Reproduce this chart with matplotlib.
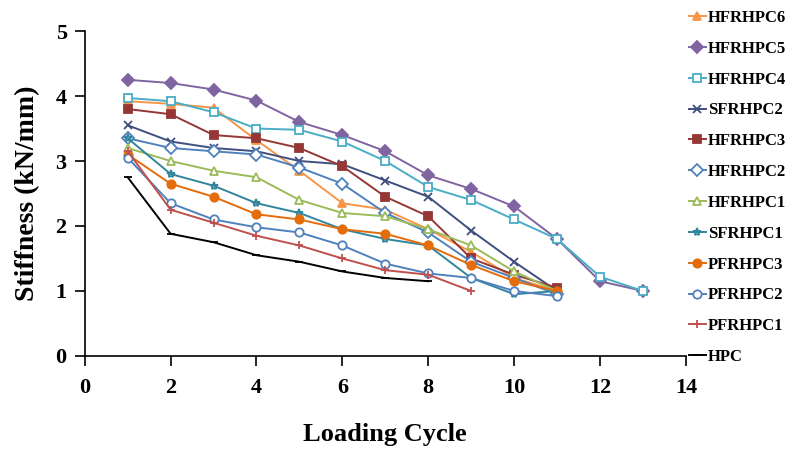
import numpy as np
import matplotlib.pyplot as plt

#--- DATA ---------------------------------------------------------------------+

names = ['HFRHPC6', 'HFRHPC5', 'HFRHPC4', 'SFRHPC2', 'HFRHPC3', 'HFRHPC2',
         'HFRHPC1', 'SFRHPC1', 'PFRHPC3', 'PFRHPC2', 'PFRHPC1', 'HPC']

hfrhpc6 = [3.92, 3.88, 3.82, 3.32, 2.85, 2.35, 2.25, 1.95, 1.60, 1.20, 1.00]
hfrhpc5 = [4.25, 4.20, 4.10, 3.93, 3.60, 3.40, 3.15, 2.78, 2.57, 2.30, 1.80, 1.15, 1.00]
hfrhpc4 = [3.97, 3.92, 3.75, 3.50, 3.48, 3.30, 3.00, 2.60, 2.40, 2.10, 1.80, 1.22, 1.00]
sfrhpc2 = [3.55, 3.30, 3.20, 3.15, 3.00, 2.95, 2.70, 2.45, 1.93, 1.45, 1.00]
hfrhpc3 = [3.80, 3.72, 3.40, 3.35, 3.20, 2.92, 2.45, 2.15, 1.50, 1.25, 1.05]
hfrhpc2 = [3.35, 3.20, 3.15, 3.10, 2.90, 2.65, 2.20, 1.90, 1.45, 1.20, 0.95]
hfrhpc1 = [3.20, 3.00, 2.85, 2.75, 2.40, 2.20, 2.15, 1.95, 1.70, 1.30, 1.00]
sfrhpc1 = [3.35, 2.80, 2.62, 2.35, 2.20, 1.95, 1.80, 1.70, 1.20, 0.95, 1.00]
pfrhpc3 = [3.10, 2.65, 2.45, 2.18, 2.10, 1.95, 1.88, 1.70, 1.40, 1.15, 1.00]
pfrhpc2 = [3.05, 2.35, 2.10, 1.98, 1.90, 1.70, 1.42, 1.27, 1.20, 1.00, 0.92]
pfrhpc1 = [3.15, 2.25, 2.05, 1.85, 1.70, 1.50, 1.32, 1.25, 1.00]
hpc     = [2.75, 1.88, 1.75, 1.55, 1.45, 1.30, 1.20, 1.15]

series = [hfrhpc6, hfrhpc5, hfrhpc4, sfrhpc2, hfrhpc3, hfrhpc2,
          hfrhpc1, sfrhpc1, pfrhpc3, pfrhpc2, pfrhpc1, hpc]

#--- STYLES -------------------------------------------------------------------+

styles = [
    dict(color='#F79646', marker='^', mfc='#F79646'),
    dict(color='#8064A2', marker='D', mfc='#8064A2'),
    dict(color='#4BACC6', marker='s', mfc='white'),
    dict(color='#3F4F7F', marker='x', mfc='none'),
    dict(color='#953735', marker='s', mfc='#953735'),
    dict(color='#4F81BD', marker='D', mfc='white'),
    dict(color='#9BBB59', marker='^', mfc='white'),
    dict(color='#31859C', marker='*', mfc='none'),
    dict(color='#E46C0A', marker='o', mfc='#E46C0A'),
    dict(color='#4F81BD', marker='o', mfc='white'),
    dict(color='#C0504D', marker='+', mfc='none'),
    dict(color='black', marker='_', mfc='black'),
]

plt.rcParams['font.family'] = ['Liberation Serif', 'DejaVu Serif']
plt.rcParams['font.weight'] = 'bold'

fig = plt.figure(figsize=(7.92, 4.5), dpi=100)
ax = fig.add_axes([0.107, 0.209, 0.759, 0.722])

for name, vals, st in zip(names, series, styles):
    x = np.arange(1, len(vals) + 1)
    ax.plot(x, vals, color=st['color'], marker=st['marker'], mfc=st['mfc'],
            mec=st['color'], ms=6, lw=1.4, mew=1.3, label=name)

ax.set_xlim(0, 14)
ax.set_ylim(0, 5)
ax.set_xticks(range(0, 15, 2))
ax.set_yticks(range(0, 6))
ax.spines['top'].set_visible(False)
ax.spines['right'].set_visible(False)
ax.spines['left'].set_linewidth(1.2)
ax.spines['bottom'].set_linewidth(1.2)
ax.tick_params(labelsize=16, width=1.2, length=7)
ax.tick_params(axis='x', pad=9)
ax.tick_params(axis='y', pad=6)

ax.set_xlabel('Loading Cycle', fontsize=19, fontweight='bold', labelpad=18)
ax.set_ylabel('Stiffness (kN/mm)', fontsize=20, fontweight='bold', labelpad=11)

leg = ax.legend(loc='upper left', bbox_to_anchor=(1.005, 1.065), frameon=False,
                fontsize=12, handlelength=1.0, handletextpad=0.15,
                labelspacing=0.89, borderaxespad=0, borderpad=0)

fig.savefig('out.png', dpi=100)
